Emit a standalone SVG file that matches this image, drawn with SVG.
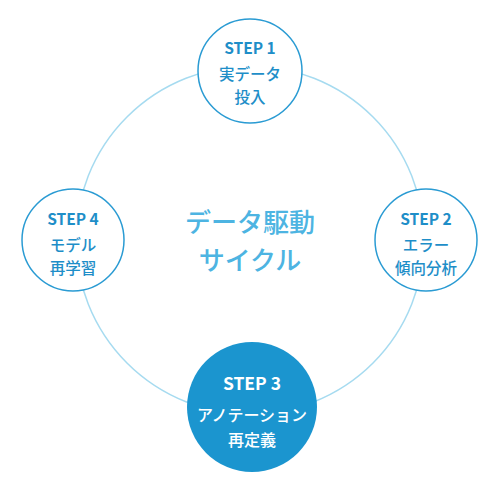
<svg xmlns="http://www.w3.org/2000/svg" width="500" height="500" viewBox="0 0 500 500">
<style>
.node{fill:#fff;stroke:#2a9bd3;stroke-width:1.5}
.t{font-family:"Noto Sans CJK JP","Noto Sans",sans-serif;text-anchor:middle;fill:#1e8ec8;font-weight:700}
.s{font-size:15.5px}
.j{font-size:15.5px;font-weight:500}
.w{fill:#fff}
.c{font-family:"Noto Sans CJK JP",sans-serif;text-anchor:middle;fill:#4db4e2;font-size:26px;font-weight:500}
</style>
<rect width="500" height="500" fill="#fff"/>
<g id="connectors">
<circle cx="250" cy="240" r="174" fill="none" stroke="#a6dbf0" stroke-width="1.5"/>
</g>
<g id="center">
<text class="c" x="250" y="232">データ駆動</text>
<text class="c" x="250" y="270">サイクル</text>
</g>
<g id="step1">
<circle class="node" cx="250" cy="71" r="52"/>
<text class="t s" x="250" y="54">STEP 1</text>
<text class="t j" x="250" y="80">実データ</text>
<text class="t j" x="250" y="103">投入</text>
</g>
<g id="step2">
<circle class="node" cx="426" cy="240" r="51"/>
<text class="t s" x="426" y="225">STEP 2</text>
<text class="t j" x="426" y="251">エラー</text>
<text class="t j" x="426" y="274">傾向分析</text>
</g>
<g id="step3">
<circle cx="252" cy="407" r="65" fill="#1b95cf"/>
<text class="t s w" x="252" y="390" style="font-size:17.5px">STEP 3</text>
<text class="t j w" x="252" y="421" style="font-size:16px">アノテーション</text>
<text class="t j w" x="252" y="446" style="font-size:16px">再定義</text>
</g>
<g id="step4">
<circle class="node" cx="73" cy="240" r="51"/>
<text class="t s" x="73" y="225">STEP 4</text>
<text class="t j" x="73" y="251">モデル</text>
<text class="t j" x="73" y="274">再学習</text>
</g>
</svg>
